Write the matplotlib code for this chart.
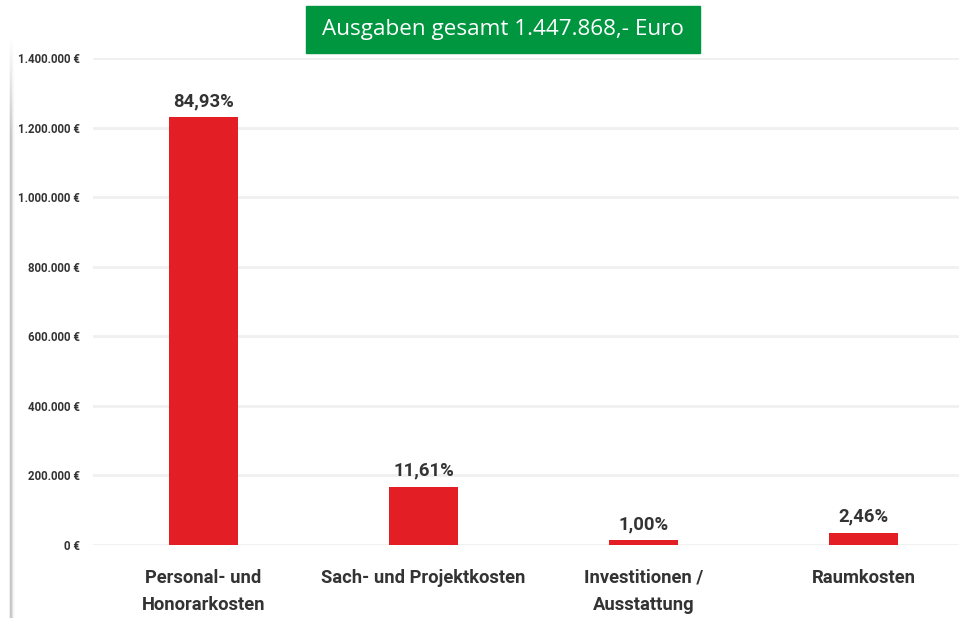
import matplotlib
matplotlib.use("Agg")
import matplotlib.pyplot as plt
from matplotlib.patches import Rectangle
from matplotlib.ticker import FuncFormatter
import numpy as np

# data
categories = ["Personal- und\nHonorarkosten", "Sach- und Projektkosten",
              "Investitionen /\nAusstattung", "Raumkosten"]
ausgaben = [1229700, 168100, 14500, 35600]
anteile = ["84,93%", "11,61%", "1,00%", "2,46%"]
titel = "Ausgaben gesamt 1.447.868,- Euro"

W, H = 959, 618
rot = "#e31e25"
gruen = "#009640"
text_col = "#333333"

fig = plt.figure(figsize=(W / 100, H / 100), dpi=100)
ax = fig.add_axes([93 / W, 1 - 545 / H, 1 - 93 / W, (545 - 58) / H])

x = np.arange(len(categories))
bars = ax.bar(x, ausgaben, width=0.314, color=rot, zorder=3)

for b, txt in zip(bars, anteile):
    ax.annotate(txt, (b.get_x() + b.get_width() / 2, b.get_height()),
                xytext=(0, 5), textcoords="offset points", ha="center", va="bottom",
                fontsize=13.3, fontweight="bold", color=text_col, family="Roboto")

ax.set_xlim(-0.502, 3.432)
ax.set_ylim(0, 1400000)
ax.set_yticks(np.arange(0, 1400001, 200000))
ax.yaxis.set_major_formatter(FuncFormatter(
    lambda v, p: "0 €" if v == 0 else f"{int(v):,} €".replace(",", ".")))
ax.grid(axis="y", color="#f0f0f0", linewidth=2, zorder=0)
ax.tick_params(axis="y", length=0, pad=9.5, labelsize=8.3, labelcolor=text_col)
for lab in ax.get_yticklabels():
    lab.set_fontweight("bold")
    lab.set_family("Roboto")

ax.set_xticks(x)
ax.set_xticklabels(categories, fontsize=13.2, color=text_col, family="Roboto",
                   fontweight="bold", linespacing=1.65)
ax.tick_params(axis="x", length=0, pad=17)
for s in ax.spines.values():
    s.set_visible(False)

# green title box
fig.patches.append(Rectangle((306 / W, 1 - 53 / H), (700 - 306) / W, 47 / H,
                             transform=fig.transFigure, color=gruen, zorder=5))
fig.text(503 / W, 1 - 30 / H, titel, ha="center", va="center", color="white",
         fontsize=16.2, family="Open Sans", zorder=6)

# soft shadow on the left edge
sh = fig.add_axes([8 / W, 0, 8 / W, 1 - 36 / H])
grad = np.zeros((100, 8, 4))
grad[..., :3] = 0.55
fade_x = np.array([0.0, 0.15, 0.5, 0.45, 0.25, 0.1, 0.03, 0.0])
fade_y = np.clip(np.linspace(0, 6, 100), 0, 1)
grad[..., 3] = fade_y[:, None] * fade_x[None, :]
sh.imshow(grad, aspect="auto", interpolation="bilinear")
sh.axis("off")

fig.savefig("out.png", dpi=100)
